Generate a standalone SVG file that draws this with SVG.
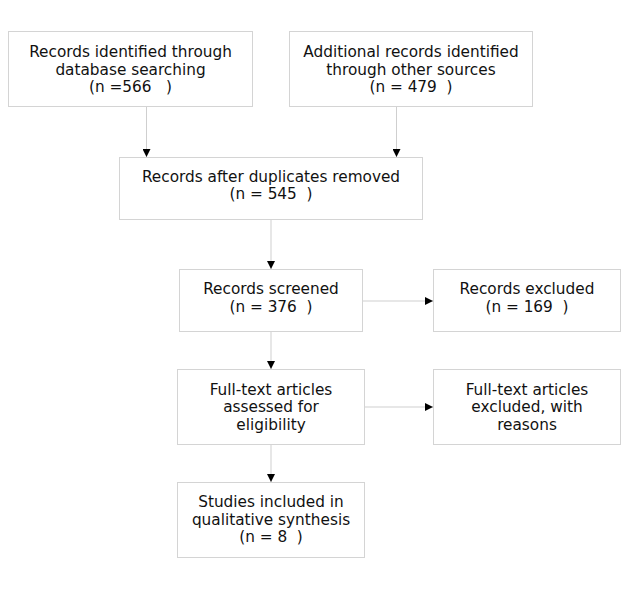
<svg xmlns="http://www.w3.org/2000/svg" width="625" height="595" viewBox="0 0 625 595">
<style>
.box{fill:#fff;stroke:#d4d4d4;stroke-width:1}
.t{font-family:"DejaVu Sans",sans-serif;font-size:15.3px;fill:#111;text-anchor:middle;white-space:pre}
.c{stroke:#cfcfcf;stroke-width:1;fill:none}
</style>
<defs>
<marker id="ah" viewBox="0 0 8 8" refX="8" refY="4" markerWidth="8" markerHeight="8" markerUnits="userSpaceOnUse" orient="auto">
<path d="M0,0 L8,4 L0,8 Z" fill="#000"/>
</marker>
</defs>
<rect width="625" height="595" fill="#fff"/>
<g id="connectors">
<line class="c" x1="146.5" y1="106" x2="146.5" y2="157" marker-end="url(#ah)"/>
<line class="c" x1="396.5" y1="106" x2="396.5" y2="157" marker-end="url(#ah)"/>
<line class="c" x1="271" y1="219" x2="271" y2="269" marker-end="url(#ah)"/>
<line class="c" x1="362" y1="301" x2="433" y2="301" marker-end="url(#ah)"/>
<line class="c" x1="271" y1="332" x2="271" y2="369" marker-end="url(#ah)"/>
<line class="c" x1="364" y1="407" x2="433" y2="407" marker-end="url(#ah)"/>
<line class="c" x1="271" y1="444" x2="271" y2="482" marker-end="url(#ah)"/>
</g>
<g id="n1">
<rect class="box" x="8.5" y="31.5" width="244" height="75"/>
<text class="t" x="130.5" y="57">Records identified through</text>
<text class="t" x="130.5" y="74.5">database searching</text>
<text class="t" x="130.5" y="92" xml:space="preserve">(n =566   )</text>
</g>
<g id="n2">
<rect class="box" x="289.5" y="31.5" width="243" height="75"/>
<text class="t" x="411" y="57">Additional records identified</text>
<text class="t" x="411" y="74.5">through other sources</text>
<text class="t" x="411" y="92" xml:space="preserve">(n = 479  )</text>
</g>
<g id="n3">
<rect class="box" x="119.5" y="157.5" width="303" height="62"/>
<text class="t" x="271" y="181.5">Records after duplicates removed</text>
<text class="t" x="271" y="199" xml:space="preserve">(n = 545  )</text>
</g>
<g id="n4">
<rect class="box" x="179.5" y="269.5" width="183" height="62"/>
<text class="t" x="271" y="294">Records screened</text>
<text class="t" x="271" y="311.5" xml:space="preserve">(n = 376  )</text>
</g>
<g id="n5">
<rect class="box" x="433.5" y="269.5" width="187" height="62"/>
<text class="t" x="527" y="294">Records excluded</text>
<text class="t" x="527" y="311.5" xml:space="preserve">(n = 169  )</text>
</g>
<g id="n6">
<rect class="box" x="177.5" y="369.5" width="187" height="75"/>
<text class="t" x="271" y="394.5">Full-text articles</text>
<text class="t" x="271" y="412">assessed for</text>
<text class="t" x="271" y="429.5">eligibility</text>
</g>
<g id="n7">
<rect class="box" x="433.5" y="369.5" width="187" height="75"/>
<text class="t" x="527" y="394.5">Full-text articles</text>
<text class="t" x="527" y="412">excluded, with</text>
<text class="t" x="527" y="429.5">reasons</text>
</g>
<g id="n8">
<rect class="box" x="177.5" y="482.5" width="187" height="75"/>
<text class="t" x="271" y="507">Studies included in</text>
<text class="t" x="271" y="524.5">qualitative synthesis</text>
<text class="t" x="271" y="542" xml:space="preserve">(n = 8  )</text>
</g>
</svg>
